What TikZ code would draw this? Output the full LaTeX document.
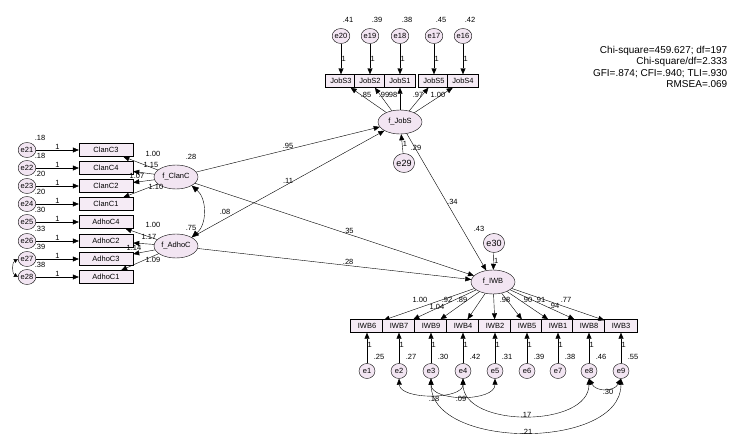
\documentclass[tikz,border=0pt]{standalone}
\usepackage{fontspec}
\setmainfont{Liberation Sans}
\usetikzlibrary{arrows.meta,shapes.geometric}
\begin{document}
\begin{tikzpicture}[x=1pt,y=-1pt,font=\fontsize{7.5}{8}\selectfont,
 ov/.style={draw,ellipse,fill=violet!10,inner sep=0pt,minimum width=16pt,minimum height=15pt},
 lat/.style={draw,ellipse,fill=violet!10,inner sep=0pt,minimum width=44pt,minimum height=24pt},
 box/.style={draw,fill=violet!8,inner sep=0pt,minimum height=13pt},
 ar/.style={-{Triangle[length=6pt,width=5pt]}},
 lb/.style={inner sep=0.5pt}]
\useasboundingbox (0,0) rectangle (734,447);
\node[lb,anchor=east,font=\fontsize{10}{11.5}\selectfont,align=right] (fit) at (728,67) {Chi-square=459.627; df=197\\Chi-square/df=2.333\\GFI=.874; CFI=.940; TLI=.930\\RMSEA=.069};
% JobS
\node[lat] (fj) at (400,122) {f\_JobS};
\foreach \x/\n/\e/\v/\l [count=\i] in {341/JobS3/e20/.41/.85,370/JobS2/e19/.39/.99,400/JobS1/e18/.38/.98,434/JobS5/e17/.45/.97,463/JobS4/e16/.42/1.00}{
 \node[box,minimum width=31pt] (j\i) at (\x,81) {\n};
 \node[ov] (ej\i) at (\x,36) {\e};
 \node[lb] at (\x+7,20) {\v};
 \draw[ar] (ej\i) -- node[lb,right,pos=0.5]{1} (j\i);
 \draw[ar] (fj) -- (j\i);
}
\foreach \l/\x in {.85/366,.99/384,.98/392,.97/418,1.00/438}{\node[lb] at (\x,95) {\l};}
\node[ov,minimum width=20pt,minimum height=19pt,font=\fontsize{9}{10}\selectfont] (e29) at (404,163) {e29};
\draw[ar] (e29) -- node[lb,right]{1} (fj);
\node[lb] at (416,148) {.29};
% Clan / Adhoc
\node[lat] (fc) at (176,177) {f\_ClanC};
\node[lat] (fa) at (176,246) {f\_AdhoC};
\node[lb] at (191,157) {.28};
\node[lb] at (191,228) {.75};
\foreach \n/\y/\e/\v/\f/\l [count=\i] in {ClanC3/150/e21/.18/fc/1.00,ClanC4/168/e22/.18/fc/1.15,ClanC2/186/e23/.20/fc/1.07,ClanC1/204/e24/.20/fc/1.10,AdhoC4/222/e25/.30/fa/1.00,AdhoC2/241/e26/.33/fa/1.17,AdhoC3/259/e27/.39/fa/1.14,AdhoC1/277/e28/.38/fa/1.09}{
 \node[box,minimum width=54pt] (c\i) at (106,\y) {\n};
 \node[ov] (ec\i) at (27,\y) {\e};
 \node[lb] at (40,\y-12) {\v};
 \draw[ar] (ec\i) -- node[lb,above]{1} (c\i);
 \draw[ar] (\f) -- (c\i);
}
\node[lb] at (153,154) {1.00};
\node[lb] at (151,165) {1.15};
\node[lb] at (137,176) {1.07};
\node[lb] at (156,187) {1.10};
\node[lb] at (153,225) {1.00};
\node[lb] at (149,237) {1.17};
\node[lb] at (134,248) {1.14};
\node[lb] at (153,260) {1.09};
\draw[{Triangle[length=4pt,width=4pt]}-{Triangle[length=4pt,width=4pt]}] (ec7.west) to[bend right=60] (ec8.west);
\draw[{Triangle[length=7pt,width=6pt]}-{Triangle[length=7pt,width=6pt]}] (fc.south east) to[bend left=50] (fa.north east);
\node[lb] at (225,212) {.08};
% IWB
\node[lat] (fi) at (493,282) {f\_IWB};
\node[ov,minimum width=20pt,minimum height=19pt,font=\fontsize{9}{10}\selectfont] (e30) at (494,243) {e30};
\draw[ar] (e30) -- node[lb,right]{1} (fi);
\node[lb] at (479,229) {.43};
\foreach \x/\n/\v [count=\i] in {367/IWB6/.25,399/IWB7/.27,431/IWB9/.30,463/IWB4/.42,495/IWB2/.31,527/IWB5/.39,558/IWB1/.38,589/IWB8/.46,621/IWB3/.55}{
 \node[box,minimum width=33pt] (w\i) at (\x,326) {\n};
 \node[ov] (e\i) at (\x,371) {e\i};
 \node[lb] at (\x+12,357) {\v};
 \draw[ar] (e\i) -- node[lb,right,pos=0.6]{1} (w\i);
 \draw[ar] (fi) -- (w\i);
}
\foreach \l/\x/\y in {1.00/420,1.04/437,.92/447,.89/462,.98/505,.90/527,.91/540,.94/554,.77/566}{\node[lb] at (\x,{\l==1.04 ? 307 : (\l==.94 ? 306 : 300)}) {\l};}
\tikzset{cv/.style={{Triangle[length=6pt,width=5pt]}-{Triangle[length=6pt,width=5pt]}}}
\draw[cv] (e2.south) .. controls (400,400) and (463,400) .. (e4.south);
\draw[cv] (e3.south) .. controls (431,402) and (495,402) .. (e5.south);
\draw[cv] (e4.south) .. controls (463,428) and (589,428) .. (e8.south);
\draw[cv] (e3.south) .. controls (431,450) and (621,450) .. (e9.south);
\draw[cv] (e8.south) .. controls (596,392) and (614,392) .. (e9.south);
\node[lb] at (434,399) {.18};
\node[lb] at (461,399) {.09};
\node[lb] at (526,415) {.17};
\node[lb] at (527,432) {.21};
\node[lb] at (608,392) {.30};
% structural
\draw[ar] (fc) -- node[lb,above,pos=0.5]{.95} (fj);
\draw[ar] (fa) -- node[lb,above,pos=0.5]{.11} (fj);
\draw[ar] (fc) -- node[lb,above,pos=0.55]{.35} (fi);
\draw[ar] (fa) -- node[lb,above,pos=0.55]{.28} (fi);
\draw[ar] (fj) -- node[lb,right,pos=0.5]{.34} (fi);
\end{tikzpicture}
\end{document}
